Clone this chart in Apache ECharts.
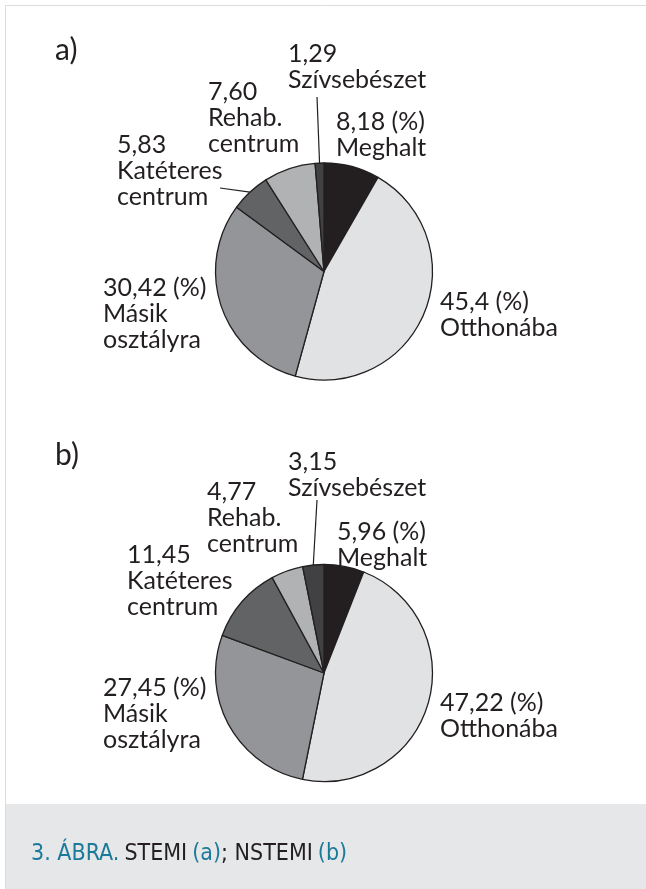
<!DOCTYPE html>
<html>
<head>
<meta charset="utf-8">
<script src="https://cdn.jsdelivr.net/npm/echarts@6/dist/echarts.min.js"></script>
<style>
html, body { margin: 0; padding: 0; background: #fff; }
#chart { width: 646px; height: 889px; }
</style>
</head>
<body>
<div id="chart"></div>
<script>
// slices, clockwise from 12 o'clock
const categories = ['Meghalt', 'Otthonába', 'Másik\nosztályra', 'Katéteres\ncentrum', 'Rehab.\ncentrum', 'Szívsebészet'];
const stemiValues = [8.18, 45.4, 30.42, 5.83, 7.60, 1.29];
const stemiText = ['8,18 (%)', '45,4 (%)', '30,42 (%)', '5,83', '7,60', '1,29'];
const nstemiValues = [5.96, 47.22, 27.45, 11.45, 4.77, 3.15];
const nstemiText = ['5,96 (%)', '47,22 (%)', '27,45 (%)', '11,45', '4,77', '3,15'];
const sliceColors = ['#231f20', '#e1e2e3', '#939598', '#626365', '#b1b2b4', '#414042'];

// label block top-left corners
const stemiLabelPos = [[336, 109], [440, 289], [103, 275], [117, 132], [208, 79], [288, 41]];
const nstemiLabelPos = [[337, 519], [440, 690], [103, 675], [127, 542], [207, 479], [288, 449]];
// leader line end, relative to the label corner
const stemiLeader = { 3: [103, 56], 5: [29, 56] };
const nstemiLeader = { 5: [29, 51] };

const ink = '#231f20';
const narrow = '"Liberation Sans Narrow", "DejaVu Sans Condensed", Lato, sans-serif';

function pieData(values, texts, leader) {
    return values.map((v, i) => ({
        value: v,
        name: categories[i],
        valueText: texts[i],
        itemStyle: { color: sliceColors[i] },
        labelLine: { show: !!leader[i] }
    }));
}

function placeLabels(pos, leader) {
    return function (params) {
        const i = params.dataIndex;
        const p = pos[i];
        const out = { x: p[0], y: p[1], align: 'left', verticalAlign: 'top' };
        if (leader[i] && params.labelLinePoints) {
            const a = params.labelLinePoints[0];
            out.labelLinePoints = [[a[0], a[1]], [p[0] + leader[i][0], p[1] + leader[i][1]]];
        }
        return out;
    };
}

function pieSeries(values, texts, pos, leader, cy) {
    return {
        type: 'pie',
        center: [324, cy],
        radius: 108.5,
        startAngle: 90,
        clockwise: true,
        avoidLabelOverlap: false,
        silent: true,
        data: pieData(values, texts, leader),
        itemStyle: { borderColor: ink, borderWidth: 1.3 },
        label: {
            show: true,
            position: 'outside',
            color: ink,
            fontFamily: 'Lato',
            fontSize: 25,
            lineHeight: 26,
            formatter: (p) => p.data.valueText + '\n' + p.name
        },
        labelLine: { length: 5, length2: 5, lineStyle: { color: ink, width: 1.2 } },
        labelLayout: placeLabels(pos, leader)
    };
}

const myChart = echarts.init(document.getElementById('chart'));
const option = {
    animation: false,
    backgroundColor: '#fff',
    title: [
        { text: 'a)', left: 50, top: 30, textStyle: { fontFamily: 'Lato', fontSize: 30, fontWeight: 'normal', color: ink } },
        { text: 'b)', left: 50, top: 435, textStyle: { fontFamily: 'Lato', fontSize: 30, fontWeight: 'normal', color: ink } },
        {
            text: '{t|3. ÁBRA.} {k|STEMI} {t|(a)}{k|; NSTEMI} {t|(b)}',
            left: 26,
            top: 838,
            textStyle: {
                fontWeight: 'normal',
                rich: {
                    t: { color: '#1b7a99', fontFamily: narrow, fontSize: 23, fontWeight: 'normal' },
                    k: { color: ink, fontFamily: narrow, fontSize: 23, fontWeight: 'normal' }
                }
            }
        }
    ],
    graphic: [
        { type: 'rect', z: -10, shape: { x: 5.5, y: 5.5, width: 700, height: 900 }, style: { fill: 'none', stroke: '#dcdcdc', lineWidth: 1 } },
        { type: 'rect', z: -9, shape: { x: 6, y: 804, width: 640, height: 85 }, style: { fill: '#e6e7e8' } }
    ],
    series: [
        pieSeries(stemiValues, stemiText, stemiLabelPos, stemiLeader, 271.5),
        pieSeries(nstemiValues, nstemiText, nstemiLabelPos, nstemiLeader, 673)
    ]
};
myChart.setOption(option);

window.onresize = () => {
    myChart.resize();
};
</script>
</body>
</html>
